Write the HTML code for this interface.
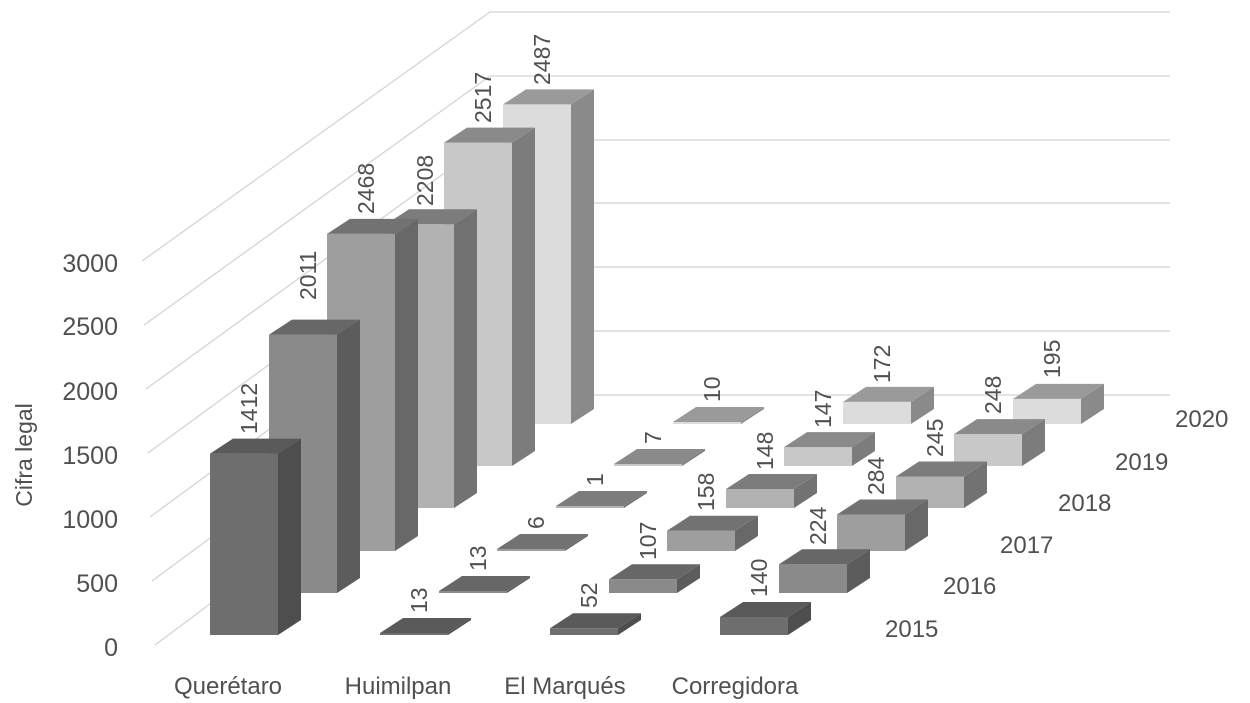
<!DOCTYPE html>
<html><head><meta charset="utf-8"><style>
body{margin:0;background:#fff}
svg{display:block}
text{font-family:"Liberation Sans",sans-serif;fill:#505050}
.r0 .f{fill:#6e6e6e}.r0 .s{fill:#4e4e4e}.r0 .t{fill:#5a5a5a}
.r1 .f{fill:#8a8a8a}.r1 .s{fill:#5c5c5c}.r1 .t{fill:#676767}
.r2 .f{fill:#9e9e9e}.r2 .s{fill:#686868}.r2 .t{fill:#727272}
.r3 .f{fill:#b2b2b2}.r3 .s{fill:#727272}.r3 .t{fill:#7c7c7c}
.r4 .f{fill:#c8c8c8}.r4 .s{fill:#7c7c7c}.r4 .t{fill:#8a8a8a}
.r5 .f{fill:#dcdcdc}.r5 .s{fill:#8a8a8a}.r5 .t{fill:#9a9a9a}
</style></head><body>
<svg width="1250" height="703" viewBox="0 0 1250 703" xmlns="http://www.w3.org/2000/svg">
<g stroke="#d4d4d4" stroke-width="1.3" fill="none">
<polyline points="155,645 490,395 1170,395"/>
<polyline points="152,581 490,331 1170,331"/>
<polyline points="150,517 490,267 1170,267"/>
<polyline points="148,453 490,203 1170,203"/>
<polyline points="146,389 490,140 1170,140"/>
<polyline points="144,325 490,76 1170,76"/>
<polyline points="142,261 490,12 1170,12"/>
</g>
<g font-size="25" text-anchor="end">
<text x="118" y="656">0</text><text x="118" y="592">500</text><text x="118" y="528">1000</text>
<text x="118" y="464">1500</text><text x="118" y="400">2000</text><text x="118" y="335">2500</text><text x="118" y="272">3000</text>
</g>
<text font-size="23" transform="translate(32,455) rotate(-90)" text-anchor="middle">Cifra legal</text>
<g font-size="24" text-anchor="middle">
<text x="228" y="694">Querétaro</text><text x="398" y="694">Huimilpan</text><text x="565" y="694">El Marqués</text><text x="735" y="694">Corregidora</text>
</g>
<g font-size="24">
<text x="885" y="637">2015</text><text x="943" y="594">2016</text><text x="1000" y="553">2017</text>
<text x="1058" y="511">2018</text><text x="1115" y="470">2019</text><text x="1175" y="427">2020</text>
</g>
<g class="r5">
<g transform="translate(503,424)"><rect class="f" x="0" y="-319.6" width="68" height="319.6"/><polygon class="s" points="68,0 91,-15 91,-334.6 68,-319.6"/><polygon class="t" points="0,-319.6 23,-334.6 91,-334.6 68,-319.6"/></g>
<g transform="translate(673,424)"><rect class="f" x="0" y="-2" width="68" height="2"/><polygon class="s" points="68,0 91,-15 91,-17 68,-2"/><polygon class="t" points="0,-2 23,-17 91,-17 68,-2"/></g>
<g transform="translate(843,424)"><rect class="f" x="0" y="-22.1" width="68" height="22.1"/><polygon class="s" points="68,0 91,-15 91,-37.1 68,-22.1"/><polygon class="t" points="0,-22.1 23,-37.1 91,-37.1 68,-22.1"/></g>
<g transform="translate(1013,424)"><rect class="f" x="0" y="-25.1" width="68" height="25.1"/><polygon class="s" points="68,0 91,-15 91,-40.1 68,-25.1"/><polygon class="t" points="0,-25.1 23,-40.1 91,-40.1 68,-25.1"/></g>
</g>
<g class="r4">
<g transform="translate(444,466)"><rect class="f" x="0" y="-323.4" width="68" height="323.4"/><polygon class="s" points="68,0 91,-15 91,-338.4 68,-323.4"/><polygon class="t" points="0,-323.4 23,-338.4 91,-338.4 68,-323.4"/></g>
<g transform="translate(614,466)"><rect class="f" x="0" y="-2" width="68" height="2"/><polygon class="s" points="68,0 91,-15 91,-17 68,-2"/><polygon class="t" points="0,-2 23,-17 91,-17 68,-2"/></g>
<g transform="translate(784,466)"><rect class="f" x="0" y="-18.9" width="68" height="18.9"/><polygon class="s" points="68,0 91,-15 91,-33.9 68,-18.9"/><polygon class="t" points="0,-18.9 23,-33.9 91,-33.9 68,-18.9"/></g>
<g transform="translate(954,466)"><rect class="f" x="0" y="-31.9" width="68" height="31.9"/><polygon class="s" points="68,0 91,-15 91,-46.9 68,-31.9"/><polygon class="t" points="0,-31.9 23,-46.9 91,-46.9 68,-31.9"/></g>
</g>
<g class="r3">
<g transform="translate(386,508)"><rect class="f" x="0" y="-283.7" width="68" height="283.7"/><polygon class="s" points="68,0 91,-15 91,-298.7 68,-283.7"/><polygon class="t" points="0,-283.7 23,-298.7 91,-298.7 68,-283.7"/></g>
<g transform="translate(556,508)"><rect class="f" x="0" y="-2" width="68" height="2"/><polygon class="s" points="68,0 91,-15 91,-17 68,-2"/><polygon class="t" points="0,-2 23,-17 91,-17 68,-2"/></g>
<g transform="translate(726,508)"><rect class="f" x="0" y="-19" width="68" height="19"/><polygon class="s" points="68,0 91,-15 91,-34 68,-19"/><polygon class="t" points="0,-19 23,-34 91,-34 68,-19"/></g>
<g transform="translate(896,508)"><rect class="f" x="0" y="-31.5" width="68" height="31.5"/><polygon class="s" points="68,0 91,-15 91,-46.5 68,-31.5"/><polygon class="t" points="0,-31.5 23,-46.5 91,-46.5 68,-31.5"/></g>
</g>
<g class="r2">
<g transform="translate(327,551)"><rect class="f" x="0" y="-317.1" width="68" height="317.1"/><polygon class="s" points="68,0 91,-15 91,-332.1 68,-317.1"/><polygon class="t" points="0,-317.1 23,-332.1 91,-332.1 68,-317.1"/></g>
<g transform="translate(497,551)"><rect class="f" x="0" y="-2" width="68" height="2"/><polygon class="s" points="68,0 91,-15 91,-17 68,-2"/><polygon class="t" points="0,-2 23,-17 91,-17 68,-2"/></g>
<g transform="translate(667,551)"><rect class="f" x="0" y="-20.3" width="68" height="20.3"/><polygon class="s" points="68,0 91,-15 91,-35.3 68,-20.3"/><polygon class="t" points="0,-20.3 23,-35.3 91,-35.3 68,-20.3"/></g>
<g transform="translate(837,551)"><rect class="f" x="0" y="-36.5" width="68" height="36.5"/><polygon class="s" points="68,0 91,-15 91,-51.5 68,-36.5"/><polygon class="t" points="0,-36.5 23,-51.5 91,-51.5 68,-36.5"/></g>
</g>
<g class="r1">
<g transform="translate(269,593)"><rect class="f" x="0" y="-258.4" width="68" height="258.4"/><polygon class="s" points="68,0 91,-15 91,-273.4 68,-258.4"/><polygon class="t" points="0,-258.4 23,-273.4 91,-273.4 68,-258.4"/></g>
<g transform="translate(439,593)"><rect class="f" x="0" y="-2" width="68" height="2"/><polygon class="s" points="68,0 91,-15 91,-17 68,-2"/><polygon class="t" points="0,-2 23,-17 91,-17 68,-2"/></g>
<g transform="translate(609,593)"><rect class="f" x="0" y="-13.7" width="68" height="13.7"/><polygon class="s" points="68,0 91,-15 91,-28.7 68,-13.7"/><polygon class="t" points="0,-13.7 23,-28.7 91,-28.7 68,-13.7"/></g>
<g transform="translate(779,593)"><rect class="f" x="0" y="-28.8" width="68" height="28.8"/><polygon class="s" points="68,0 91,-15 91,-43.8 68,-28.8"/><polygon class="t" points="0,-28.8 23,-43.8 91,-43.8 68,-28.8"/></g>
</g>
<g class="r0">
<g transform="translate(210,635)"><rect class="f" x="0" y="-181.4" width="68" height="181.4"/><polygon class="s" points="68,0 91,-15 91,-196.4 68,-181.4"/><polygon class="t" points="0,-181.4 23,-196.4 91,-196.4 68,-181.4"/></g>
<g transform="translate(380,635)"><rect class="f" x="0" y="-2" width="68" height="2"/><polygon class="s" points="68,0 91,-15 91,-17 68,-2"/><polygon class="t" points="0,-2 23,-17 91,-17 68,-2"/></g>
<g transform="translate(550,635)"><rect class="f" x="0" y="-6.7" width="68" height="6.7"/><polygon class="s" points="68,0 91,-15 91,-21.7 68,-6.7"/><polygon class="t" points="0,-6.7 23,-21.7 91,-21.7 68,-6.7"/></g>
<g transform="translate(720,635)"><rect class="f" x="0" y="-18" width="68" height="18"/><polygon class="s" points="68,0 91,-15 91,-33 68,-18"/><polygon class="t" points="0,-18 23,-33 91,-33 68,-18"/></g>
</g>
<g font-size="23">
<text transform="translate(257,434) rotate(-90)">1412</text>
<text transform="translate(316,300) rotate(-90)">2011</text>
<text transform="translate(374,214) rotate(-90)">2468</text>
<text transform="translate(433,206) rotate(-90)">2208</text>
<text transform="translate(491,123) rotate(-90)">2517</text>
<text transform="translate(550,85) rotate(-90)">2487</text>
<text transform="translate(427,613) rotate(-90)">13</text>
<text transform="translate(486,571) rotate(-90)">13</text>
<text transform="translate(544,529) rotate(-90)">6</text>
<text transform="translate(603,486) rotate(-90)">1</text>
<text transform="translate(661,444) rotate(-90)">7</text>
<text transform="translate(720,402) rotate(-90)">10</text>
<text transform="translate(597,608) rotate(-90)">52</text>
<text transform="translate(656,560) rotate(-90)">107</text>
<text transform="translate(714,511) rotate(-90)">158</text>
<text transform="translate(773,470) rotate(-90)">148</text>
<text transform="translate(831,428) rotate(-90)">147</text>
<text transform="translate(890,383) rotate(-90)">172</text>
<text transform="translate(767,597) rotate(-90)">140</text>
<text transform="translate(826,545) rotate(-90)">224</text>
<text transform="translate(884,495) rotate(-90)">284</text>
<text transform="translate(943,457) rotate(-90)">245</text>
<text transform="translate(1001,414) rotate(-90)">248</text>
<text transform="translate(1060,378) rotate(-90)">195</text>
</g>
</svg>
</body></html>
